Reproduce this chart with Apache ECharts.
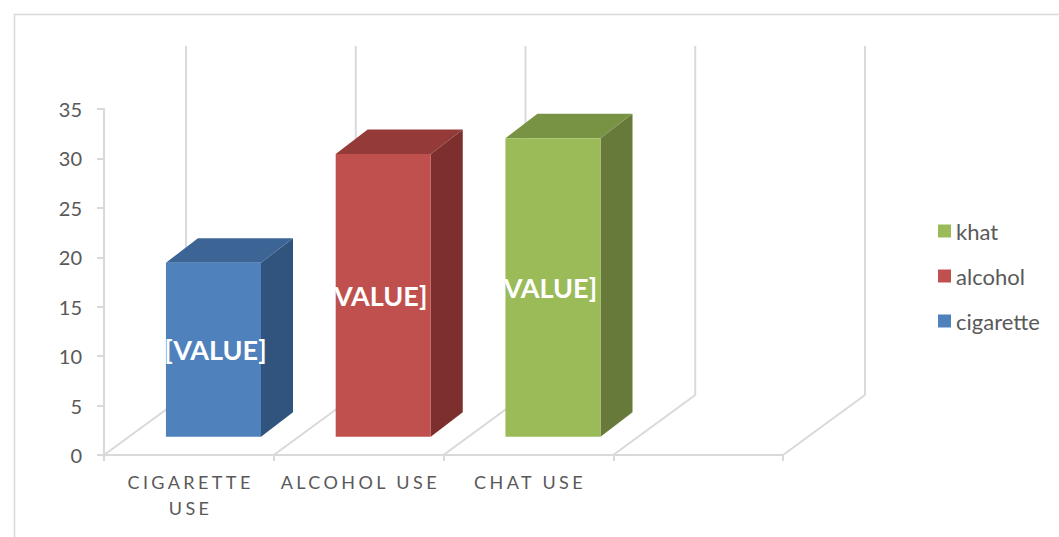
<!DOCTYPE html>
<html><head><meta charset="utf-8">
<script src="https://cdn.jsdelivr.net/npm/echarts@6/dist/echarts.min.js"></script>
<style>html,body{margin:0;padding:0;background:#fff}#c{width:1059px;height:537px}</style>
</head><body><div id="c"></div>
<script>
// ---- data ----
const categories = ['CIGARETTE USE', 'ALCOHOL USE', 'CHAT USE', ''];
const seriesNames = ['cigarette', 'alcohol', 'khat'];
const seriesCategory = [0, 1, 2];
const seriesValues = [17.6, 28.6, 30.2];
const legendOrder = ['khat', 'alcohol', 'cigarette'];
const yMin = 0, yMax = 35, yStep = 5;
const dataLabelText = '[VALUE]';

// ---- styles ----
const colors = {
  cigarette: { front: '#4f81bd', top: '#3c6494', side: '#31547e' },
  alcohol:   { front: '#c0504d', top: '#943b39', side: '#7d2f2e' },
  khat:      { front: '#9bbb59', top: '#789344', side: '#677a3a' }
};
const labelShift = { cigarette: 2, alcohol: -7, khat: -7 };
const GRID = '#d9d9d9', TXT = '#595959', FONT = 'Lato';
const DEPTH_X = 82, DEPTH_Y = 60;            // floor depth projection
const BAR_FX = 24.6, BAR_FY = 18.3;          // bar front offset in depth
const BAR_DX = 32, BAR_DY = 24.4;            // bar depth
const BAR_W = 0.56;                          // fraction of band

function wrapLabel(v) { return v.length > 12 ? v.replace(' ', '\n') : v; }

const chart = echarts.init(document.getElementById('c'), null, { renderer: 'svg' });

const wallSeries = {
  type: 'custom', name: '__wall', z: 1, silent: true,
  data: categories.map((c, i) => [i, 0]),
  encode: { x: 0, y: 1 },
  renderItem(params, api) {
    const i = api.value(0);
    const p = api.coord([i, yMin]);
    const yTop = api.coord([i, yMax])[1];
    const band = api.size([1, 0])[0];
    const xs = [p[0] - band / 2];
    if (i === categories.length - 1) xs.push(p[0] + band / 2);
    const children = [];
    xs.forEach(x => {
      children.push({ type: 'line', shape: { x1: x, y1: p[1], x2: x + DEPTH_X, y2: p[1] - DEPTH_Y }, style: { stroke: GRID, lineWidth: 2 } });
      children.push({ type: 'line', shape: { x1: x + DEPTH_X, y1: p[1] - DEPTH_Y, x2: x + DEPTH_X, y2: yTop - DEPTH_Y - 3 }, style: { stroke: GRID, lineWidth: 2 } });
    });
    return { type: 'group', children };
  }
};

const barSeries = seriesNames.map((name, k) => ({
  type: 'custom', name, z: 3,
  itemStyle: { color: colors[name].front },
  data: [[seriesCategory[k], seriesValues[k]]],
  encode: { x: 0, y: 1 },
  renderItem(params, api) {
    const cat = api.value(0), v = api.value(1);
    const base = api.coord([cat, 0]);
    const tp = api.coord([cat, v]);
    const band = api.size([1, 0])[0];
    const w = band * BAR_W;
    const x1 = base[0] - w / 2 + BAR_FX, x2 = x1 + w;
    const yb = base[1] - BAR_FY, yt = tp[1] - BAR_FY;
    const c = colors[name];
    return {
      type: 'group', children: [
        { type: 'polygon', shape: { points: [[x2, yb], [x2 + BAR_DX, yb - BAR_DY], [x2 + BAR_DX, yt - BAR_DY], [x2, yt]] }, style: { fill: c.side } },
        { type: 'polygon', shape: { points: [[x1, yt], [x1 + BAR_DX, yt - BAR_DY], [x2 + BAR_DX, yt - BAR_DY], [x2, yt]] }, style: { fill: c.top } },
        { type: 'rect', shape: { x: x1, y: yt, width: w, height: yb - yt }, style: { fill: c.front } },
        { type: 'text', x: (x1 + x2) / 2 + labelShift[name], y: (yt + yb) / 2,
          style: { text: dataLabelText, fill: '#ffffff', fontSize: 27, fontWeight: 'bold', fontFamily: FONT, align: 'center', verticalAlign: 'middle' } }
      ]
    };
  }
}));

chart.setOption({
  animation: false,
  backgroundColor: '#ffffff',
  textStyle: { fontFamily: FONT },
  grid: { left: 104, right: 276, top: 109, bottom: 82, containLabel: false },
  graphic: [{ type: 'rect', left: 12, top: 12, shape: { width: 1100, height: 600 }, style: { fill: 'none', stroke: GRID, lineWidth: 1.5 }, z: 0 }],
  legend: {
    orient: 'vertical', left: 933, top: 215, itemWidth: 13, itemHeight: 13, itemGap: 23,
    icon: 'rect', data: legendOrder,
    textStyle: { fontSize: 22, color: TXT, fontFamily: FONT }
  },
  xAxis: {
    type: 'category', data: categories, boundaryGap: true,
    axisLine: { lineStyle: { color: GRID, width: 2 } },
    axisTick: { show: true, interval: 0, length: 6, lineStyle: { color: GRID, width: 2 } },
    axisLabel: { interval: 0, formatter: wrapLabel, fontSize: 18, color: TXT, fontFamily: FONT, lineHeight: 26, margin: 14 },
    splitLine: { show: false }
  },
  yAxis: {
    type: 'value', min: yMin, max: yMax, interval: yStep,
    axisLine: { show: true, lineStyle: { color: GRID, width: 2 } },
    axisTick: { show: true, length: 7, lineStyle: { color: GRID, width: 2 } },
    axisLabel: { fontSize: 20, color: TXT, fontFamily: FONT, margin: 22 },
    splitLine: { show: false }
  },
  series: [wallSeries].concat(barSeries)
});

function spaceCategoryLabels() {
  const lines = new Set();
  categories.forEach(c => wrapLabel(c).split('\n').forEach(l => { if (l) lines.add(l); }));
  document.querySelectorAll('#c svg text').forEach(t => {
    if (lines.has(t.textContent.trim())) {
      t.setAttribute('letter-spacing', '3.4px');
      t.setAttribute('dx', '1.7');
    }
  });
}
spaceCategoryLabels();
chart.on('finished', spaceCategoryLabels);
</script>
</body></html>
